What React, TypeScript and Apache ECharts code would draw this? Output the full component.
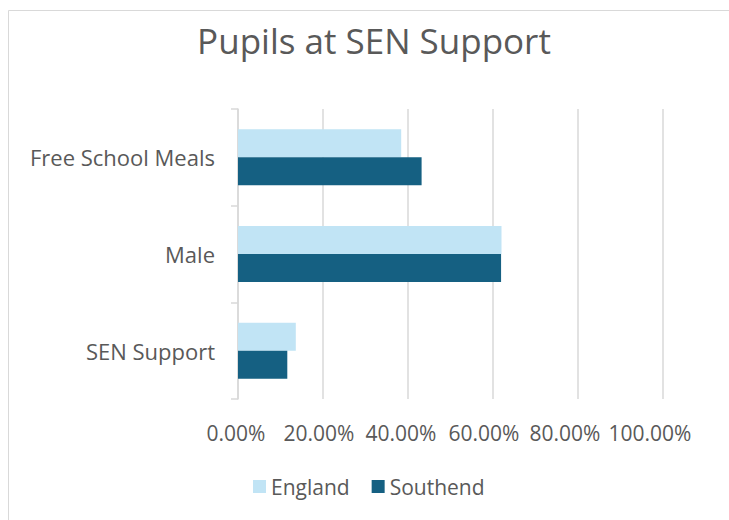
import React, { useEffect, useRef } from "react";
import * as echarts from "echarts";

const categories = ["SEN Support", "Male", "Free School Meals"];
const englandValues = [0.136, 0.62, 0.384];
const southendValues = [0.116, 0.619, 0.432];
const xTicks = [0, 0.2, 0.4, 0.6, 0.8, 1.0];
const seriesNames = ["England", "Southend"];
const titleText = "Pupils at SEN Support";

const FONT = "Open Sans";
const TEXT = "#595959";
const GRIDC = "#d9d9d9";

export default function App() {
  const ref = useRef<HTMLDivElement>(null);
  useEffect(() => {
    if (!ref.current) return;
    const chart = echarts.init(ref.current, null, { renderer: "svg" });
    const shifts = [2, 4, 7, 9, 13, 13];
    const rich: Record<string, any> = {};
    xTicks.forEach((_t, i) => {
      rich["s" + i] = {
        fontFamily: FONT,
        fontSize: 21,
        color: TEXT,
        padding: [0, 2 * shifts[i], 0, 0],
      };
    });
    chart.setOption({
      animation: false,
      backgroundColor: "#ffffff",
      title: {
        text: titleText,
        left: 369,
        textAlign: "center",
        top: 18,
        textStyle: { fontFamily: FONT, fontSize: 35, fontWeight: "normal", color: TEXT },
      },
      graphic: [
        {
          type: "rect",
          shape: { x: 8.5, y: 10.5, width: 760, height: 560 },
          style: { fill: "none", stroke: GRIDC, lineWidth: 1 },
          silent: true,
          z: -1,
        },
      ],
      legend: {
        data: seriesNames,
        left: 248,
        top: 471,
        itemWidth: 13,
        itemHeight: 13,
        itemGap: 22,
        icon: "rect",
        textStyle: { fontFamily: FONT, fontSize: 21, color: TEXT },
      },
      grid: { left: 238, top: 109, width: 425, height: 290, containLabel: false },
      xAxis: {
        type: "value",
        min: 0,
        max: 1,
        interval: 0.2,
        axisLine: { show: false },
        axisTick: { show: false },
        splitLine: { show: true, lineStyle: { color: GRIDC, width: 1.5 } },
        axisLabel: {
          margin: 23,
          fontFamily: FONT,
          fontSize: 21,
          color: TEXT,
          formatter: (v: number) => {
            const i = xTicks.findIndex((t) => Math.abs(t - v) < 1e-9);
            return "{s" + (i < 0 ? 0 : i) + "|" + (v * 100).toFixed(2) + "%}";
          },
          rich,
        },
      },
      yAxis: {
        type: "category",
        data: categories,
        axisLine: { show: true, lineStyle: { color: GRIDC, width: 1.5 } },
        axisTick: { show: true, length: 7, lineStyle: { color: GRIDC, width: 1.5 } },
        axisLabel: { margin: 23, fontFamily: FONT, fontSize: 22, color: TEXT },
      },
      series: [
        {
          name: seriesNames[0],
          type: "bar",
          data: englandValues,
          itemStyle: { color: "#c1e4f5" },
          barGap: "0%",
          barCategoryGap: "42%",
        },
        {
          name: seriesNames[1],
          type: "bar",
          data: southendValues,
          itemStyle: { color: "#156082" },
          barGap: "0%",
          barCategoryGap: "42%",
        },
      ],
    });
    return () => chart.dispose();
  }, []);
  return (
    <div
      ref={ref}
      style={{ position: "absolute", left: 0, top: 0, width: 729, height: 520 }}
    />
  );
}
